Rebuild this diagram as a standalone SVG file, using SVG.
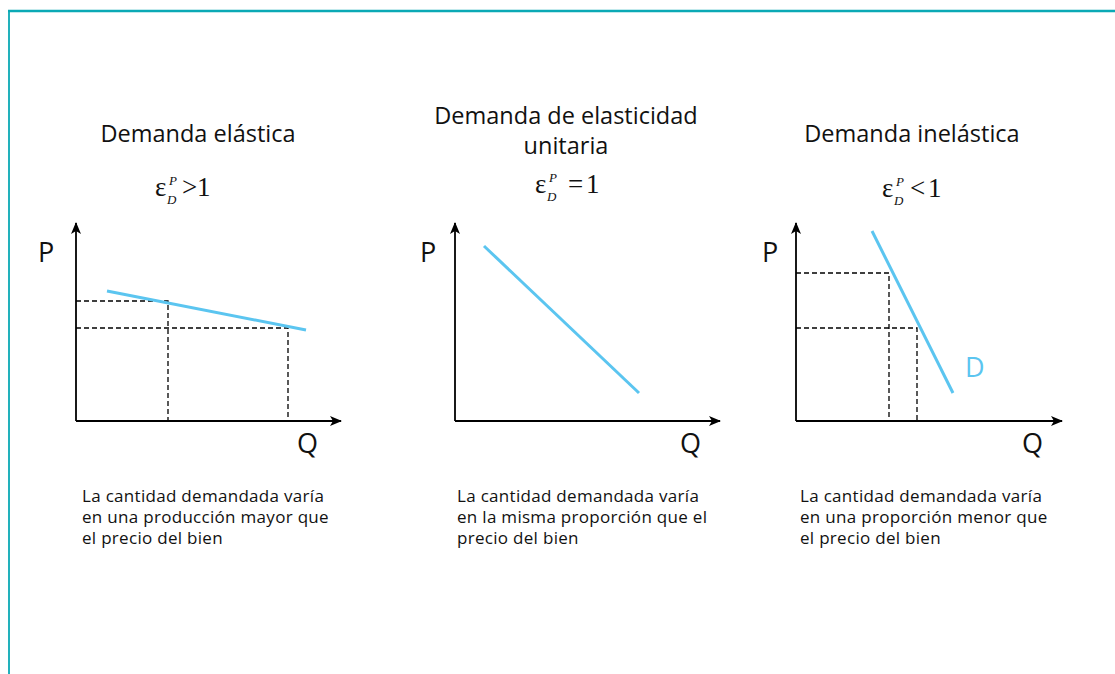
<svg xmlns="http://www.w3.org/2000/svg" width="1115" height="674" viewBox="0 0 1115 674">
<defs>
<marker id="arr" viewBox="0 0 12 10" refX="11" refY="5" markerWidth="12" markerHeight="10" markerUnits="userSpaceOnUse" orient="auto">
<path d="M0,0 L12,5 L0,10 L3,5 Z" fill="#000"/>
</marker>
<style>
.title{font-family:"Open Sans","Liberation Sans",sans-serif;font-size:23.5px;fill:#111;text-anchor:middle}
.desc{font-family:"Open Sans","Liberation Sans",sans-serif;font-size:17px;letter-spacing:0.3px;fill:#111}
.ax{stroke:#000;stroke-width:1.8;fill:none;marker-end:url(#arr)}
.dash{stroke:#000;stroke-width:1.3;stroke-dasharray:5 3;fill:none}
.curve{stroke:#5bc5f0;stroke-width:3;fill:none}
.lab{font-family:"Open Sans","Liberation Sans",sans-serif;font-size:27px;fill:#111}
.f{font-family:"Liberation Serif","Times New Roman",serif;font-size:27px;fill:#111}
.fs{font-family:"Liberation Serif","Times New Roman",serif;font-size:13px;font-style:italic;fill:#111}
</style>
</defs>
<g id="frame">
<line x1="8" y1="11" x2="1115" y2="11" stroke="#0aa9b5" stroke-width="2.5"/>
<line x1="9" y1="10" x2="9" y2="674" stroke="#0aa9b5" stroke-width="1.8"/>
</g>
<g id="connectors">
<line class="ax" x1="76" y1="421" x2="76" y2="223"/>
<line class="ax" x1="76" y1="421" x2="341" y2="421"/>
<line class="ax" x1="455" y1="421" x2="455" y2="223"/>
<line class="ax" x1="455" y1="421" x2="720" y2="421"/>
<line class="ax" x1="796" y1="421" x2="796" y2="223"/>
<line class="ax" x1="796" y1="421" x2="1062" y2="421"/>
</g>
<g id="elastica">
<text class="title" x="198" y="142">Demanda elástica</text>
<text class="f" x="155" y="196">ε</text>
<text class="fs" x="169" y="185">P</text>
<text class="fs" x="167" y="204">D</text>
<text class="f" x="182" y="196">&gt;</text>
<text class="f" x="197" y="196">1</text>
<text class="lab" x="38" y="262">P</text>
<text class="lab" x="297" y="453">Q</text>
<polyline class="dash" points="76,301 168,301 168,421"/>
<polyline class="dash" points="76,328 288,328 288,421"/>
<line class="curve" x1="107" y1="291" x2="306" y2="330"/>
<text class="desc" x="82" y="502">La cantidad demandada varía</text>
<text class="desc" x="82" y="523">en una producción mayor que</text>
<text class="desc" x="82" y="544">el precio del bien</text>
</g>
<g id="unitaria">
<text class="title" x="566" y="124">Demanda de elasticidad</text>
<text class="title" x="566" y="154">unitaria</text>
<text class="f" x="535" y="193">ε</text>
<text class="fs" x="549" y="182">P</text>
<text class="fs" x="547" y="201">D</text>
<text class="f" x="568" y="193">=</text>
<text class="f" x="586" y="193">1</text>
<text class="lab" x="420" y="262">P</text>
<text class="lab" x="680" y="453">Q</text>
<line class="curve" x1="484" y1="246" x2="639" y2="393"/>
<text class="desc" x="457" y="502">La cantidad demandada varía</text>
<text class="desc" x="457" y="523">en la misma proporción que el</text>
<text class="desc" x="457" y="544">precio del bien</text>
</g>
<g id="inelastica">
<text class="title" x="912" y="142">Demanda inelástica</text>
<text class="f" x="882" y="197">ε</text>
<text class="fs" x="896" y="186">P</text>
<text class="fs" x="894" y="205">D</text>
<text class="f" x="910" y="197">&lt;</text>
<text class="f" x="928" y="197">1</text>
<text class="lab" x="762" y="262">P</text>
<text class="lab" x="1022" y="453">Q</text>
<polyline class="dash" points="796,273 889,273 889,421"/>
<polyline class="dash" points="796,328 917,328 917,421"/>
<line class="curve" x1="872" y1="231" x2="953" y2="393"/>
<text class="lab" x="965" y="377" style="fill:#5bc5f0">D</text>
<text class="desc" x="800" y="502">La cantidad demandada varía</text>
<text class="desc" x="800" y="523">en una proporción menor que</text>
<text class="desc" x="800" y="544">el precio del bien</text>
</g>
</svg>
